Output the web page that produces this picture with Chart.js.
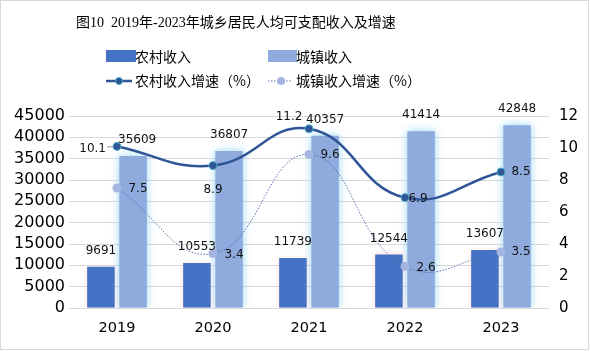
<!DOCTYPE html>
<html><head><meta charset="utf-8">
<script src="https://cdn.jsdelivr.net/npm/chart.js@4"></script>
<style>html,body{margin:0;padding:0;background:#fff}#wrap{position:relative;width:590px;height:356px}</style>
</head><body><div id="wrap"><canvas id="c" width="590" height="356"></canvas></div>
<script>
const categories = ['2019','2020','2021','2022','2023'];
const ruralIncome = [9691, 10553, 11739, 12544, 13607];
const urbanIncome = [35609, 36807, 40357, 41414, 42848];
const ruralGrowth = [10.1, 8.9, 11.2, 6.9, 8.5];
const urbanGrowth = [7.5, 3.4, 9.6, 2.6, 3.5];
const seriesNames = ['农村收入','城镇收入','农村收入增速（%）','城镇收入增速（%）'];
const titleText = '图10  2019年-2023年城乡居民人均可支配收入及增速';

const C_RURAL = '#4472C4', C_URBAN = '#8FAADC', C_RLINE = '#2F5597', C_RPT_BORDER = '#4BACC6', C_ULINE = '#5B73B8', C_UPT = '#A5B4E0';
const CJK = '"Noto Sans CJK SC", sans-serif';
const NUM = '"DejaVu Sans", sans-serif';

// label placement for growth labels: [side, dx, dy]
const ruralLblPos = [['left',-16,2],['below',0,24],['above',-20,-12],['right',13,1],['right',20,0]];
const urbanLblPos = [['right',21,1],['right',21,1],['right',21,0],['right',21,1],['right',20,0]];

const decor = {
  id:'decor',
  beforeDatasetDraw(chart, args){
    const ctx = chart.ctx;
    if (args.index === 1){ ctx.save(); ctx.shadowColor='rgba(110,200,240,0.75)'; ctx.shadowBlur=9; }
    else if (args.index === 0){ ctx.save(); ctx.shadowColor='rgba(255,170,180,0.45)'; ctx.shadowBlur=5; }
  },
  afterDatasetDraw(chart, args){
    if (args.index === 0 || args.index === 1) chart.ctx.restore();
  },
  afterDraw(chart){
    const ctx = chart.ctx;
    ctx.save();
    ctx.strokeStyle = '#D9D9D9'; ctx.lineWidth = 1;
    ctx.strokeRect(0.5, 0.5, 588, 349);
    ctx.fillStyle = '#000'; ctx.textBaseline='middle'; ctx.textAlign='left';
    ctx.font = '14px "Liberation Serif", ' + CJK;
    ctx.fillText(titleText, 76, 23);
    ctx.font = '14px ' + CJK;
    const rows = [57, 81];
    const cols = [106, 268];
    ctx.fillStyle = C_RURAL; ctx.fillRect(cols[0], 50, 30, 12);
    ctx.fillStyle = C_URBAN; ctx.fillRect(cols[1], 50, 29, 12);
    ctx.fillStyle = '#000';
    ctx.fillText(seriesNames[0], 135, rows[0]);
    ctx.fillText(seriesNames[1], 296, rows[0]);
    ctx.strokeStyle = C_RLINE; ctx.lineWidth = 2.5;
    ctx.beginPath(); ctx.moveTo(cols[0], rows[1]); ctx.lineTo(cols[0]+26, rows[1]); ctx.stroke();
    ctx.fillStyle = C_RLINE; ctx.strokeStyle = C_RPT_BORDER; ctx.lineWidth = 1;
    ctx.beginPath(); ctx.arc(cols[0]+13, rows[1], 3.5, 0, Math.PI*2); ctx.fill(); ctx.stroke();
    ctx.strokeStyle = C_ULINE; ctx.lineWidth = 1; ctx.setLineDash([1.5,1.5]);
    ctx.beginPath(); ctx.moveTo(cols[1], rows[1]); ctx.lineTo(cols[1]+24, rows[1]); ctx.stroke();
    ctx.setLineDash([]);
    ctx.fillStyle = C_UPT;
    ctx.beginPath(); ctx.arc(cols[1]+13, rows[1], 4, 0, Math.PI*2); ctx.fill();
    ctx.fillStyle = '#000';
    ctx.fillText(seriesNames[2], 135, rows[1]);
    ctx.fillText(seriesNames[3], 296, rows[1]);

    ctx.font = '12px ' + NUM;
    ctx.fillStyle = '#111'; ctx.textAlign='center'; ctx.textBaseline='middle';
    [0,1].forEach(di=>{
      const meta = chart.getDatasetMeta(di);
      const vals = chart.data.datasets[di].data;
      meta.data.forEach((el,i)=>{
        let dx = 0;
        if (di===1 && i===0) dx = 4;
        ctx.fillText(String(vals[i]), el.x + dx, el.y - 16);
      });
    });
    const lineLbls = (di, pos) => {
      const meta = chart.getDatasetMeta(di);
      const vals = chart.data.datasets[di].data;
      meta.data.forEach((el,i)=>{
        const p = pos[i];
        let tx = el.x + p[1], ty = el.y + p[2];
        ctx.textAlign = p[0]==='left' ? 'right' : 'center';
        if (p[0]==='left') tx = el.x - 11;
        ctx.fillText(String(vals[i]), tx, ty);
      });
    };
    const m2 = chart.getDatasetMeta(2).data[0];
    ctx.strokeStyle = '#999'; ctx.lineWidth = 1;
    ctx.beginPath(); ctx.moveTo(m2.x - 10, m2.y + 0.5); ctx.lineTo(m2.x - 4, m2.y + 0.5); ctx.stroke();
    lineLbls(2, ruralLblPos);
    lineLbls(3, urbanLblPos);
    ctx.restore();
  }
};

new Chart(document.getElementById('c'), {
  data: {
    labels: categories,
    datasets: [
      { type:'bar', label: seriesNames[0], data: ruralIncome, backgroundColor: C_RURAL, yAxisID:'y', order:2,
        categoryPercentage:0.67, barPercentage:0.855 },
      { type:'bar', label: seriesNames[1], data: urbanIncome, backgroundColor: C_URBAN, yAxisID:'y', order:2,
        categoryPercentage:0.67, barPercentage:0.855 },
      { type:'line', label: seriesNames[2], data: ruralGrowth, yAxisID:'y1', order:1,
        borderColor: C_RLINE, borderWidth:2.5, tension:0.45, pointRadius:4, pointBackgroundColor: C_RLINE,
        pointBorderColor: C_RPT_BORDER, pointBorderWidth:1 },
      { type:'line', label: seriesNames[3], data: urbanGrowth, yAxisID:'y1', order:0,
        borderColor: C_ULINE, borderWidth:1, borderDash:[1.5,1.5], tension:0.45, pointRadius:4.5,
        pointBackgroundColor: C_UPT, pointBorderColor: C_UPT, pointBorderWidth:0 }
    ]
  },
  options: {
    responsive:false, animation:false, devicePixelRatio:1,
    layout:{ padding:{ top:116, left:0, right:0, bottom:0 } },
    plugins:{ legend:{display:false}, title:{display:false}, tooltip:{enabled:false} },
    scales:{
      x:{ grid:{display:false, drawTicks:false}, border:{display:false},
          ticks:{ color:'#000', font:{family:NUM, size:14.5}, padding:12 },
          afterFit(s){ s.height = 48; } },
      y:{ position:'left', min:0, max:45000, border:{display:false},
          grid:{ color:'#D9D9D9', drawTicks:false },
          ticks:{ stepSize:5000, autoSkip:false, color:'#000', font:{family:NUM, size:16}, padding:4,
                  callback:(v)=>String(v) },
          afterFit(s){ s.width = 69; } },
      y1:{ position:'right', min:0, max:12, border:{display:false},
          grid:{ display:false, drawTicks:false },
          ticks:{ stepSize:2, autoSkip:false, color:'#000', font:{family:NUM, size:15}, padding:10,
                  callback:(v)=>String(v) },
          afterFit(s){ s.width = 41; } }
    }
  },
  plugins:[decor]
});
</script></body></html>
